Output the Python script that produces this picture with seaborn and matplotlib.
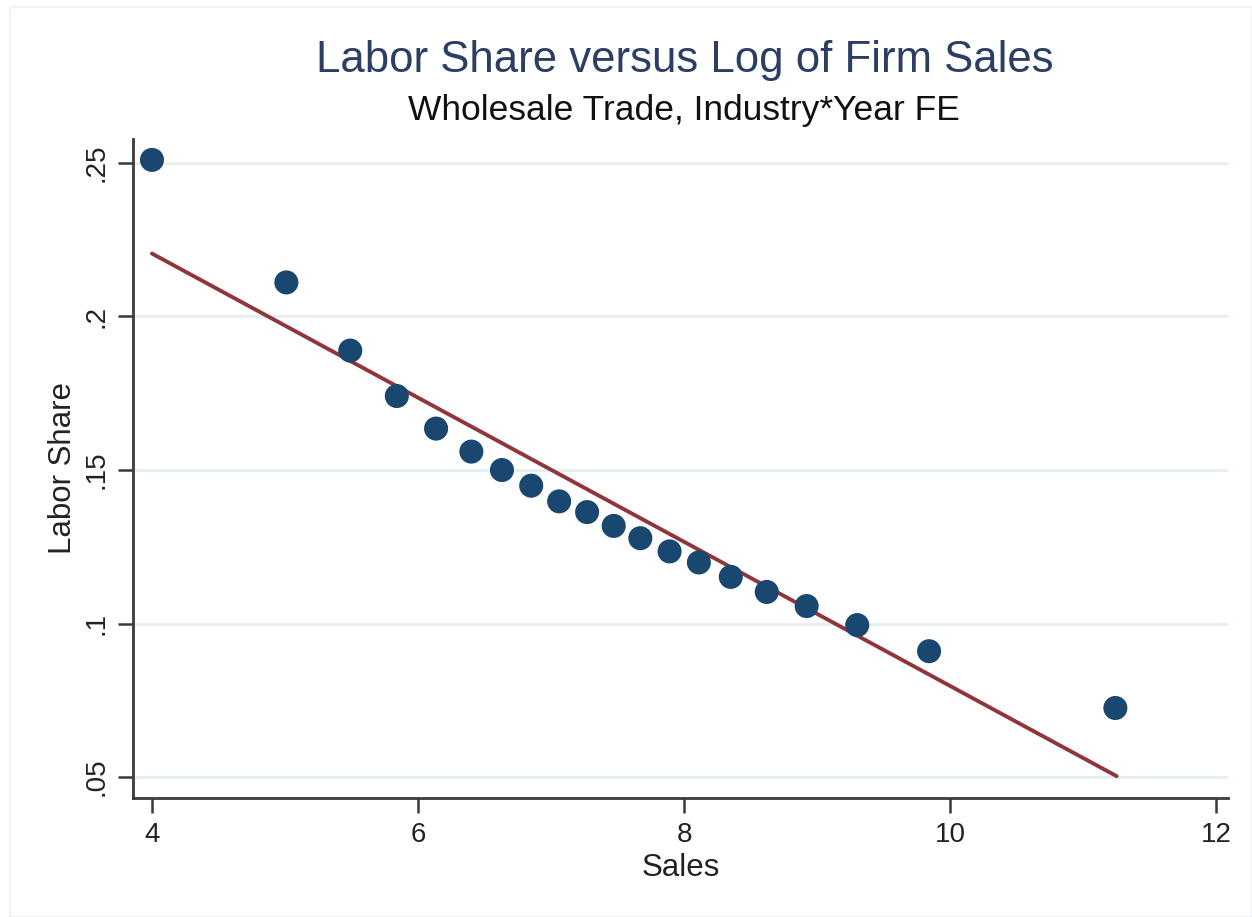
import matplotlib
matplotlib.use("Agg")
import matplotlib.pyplot as plt
import seaborn as sns
import pandas as pd
from matplotlib.patches import Rectangle

# Binned means of labor share by log firm sales
sales = [4.00, 5.01, 5.49, 5.84, 6.135, 6.40, 6.63, 6.85, 7.06, 7.27,
         7.47, 7.67, 7.89, 8.11, 8.35, 8.62, 8.92, 9.30, 9.84, 11.24]
labor_share = [0.2510, 0.2111, 0.1889, 0.1741, 0.1635, 0.1560, 0.1500, 0.1449,
               0.1398, 0.1363, 0.1318, 0.1278, 0.1235, 0.1199, 0.1152, 0.1103,
               0.1057, 0.0995, 0.0910, 0.0725]

# Linear fit endpoints
fit_x = [4.00, 11.25]
fit_y = [0.2205, 0.0503]

x_ticks = [4, 6, 8, 10, 12]
y_ticks = [0.05, 0.10, 0.15, 0.20, 0.25]
y_tick_labels = [".05", ".1", ".15", ".2", ".25"]

title = "Labor Share versus Log of Firm Sales"
subtitle = "Wholesale Trade, Industry*Year FE"

navy = "#1a476f"
maroon = "#90353b"
grid_col = "#e6f0f1"
axis_col = "#3a3a3a"

sns.set_theme(style="white")
plt.rcParams["font.family"] = ["Liberation Sans", "DejaVu Sans"]

points = pd.DataFrame({"Sales": sales, "Labor Share": labor_share})
fit = pd.DataFrame({"Sales": fit_x, "Labor Share": fit_y})

fig = plt.figure(figsize=(12.52, 9.17), dpi=100)
fig.patch.set_facecolor("white")
fig.patches.append(Rectangle((0.008, 0.0), 0.992, 0.992, transform=fig.transFigure,
                             fill=False, edgecolor="#eef4f5", linewidth=1.5))

ax = fig.add_axes([0.1062, 0.1298, 0.875, 0.7186])
ax.set_facecolor("white")

for yv in y_ticks:
    ax.axhline(yv, color=grid_col, linewidth=2.2, zorder=0)

sns.scatterplot(data=points, x="Sales", y="Labor Share", ax=ax, color=navy,
                s=300, edgecolor="none", zorder=3)
sns.lineplot(data=fit, x="Sales", y="Labor Share", ax=ax, color=maroon,
             linewidth=2.8, zorder=2)

ax.set_xlim(3.857, 12.09)
ax.set_ylim(0.0432, 0.2578)
ax.set_xticks(x_ticks)
ax.set_xticklabels([str(t) for t in x_ticks], fontsize=20, color="#222222")
ax.set_yticks(y_ticks)
ax.set_yticklabels(y_tick_labels, fontsize=20, color="#222222", rotation=90, va="center")

ax.tick_params(axis="both", which="major", length=11, width=1.8, color=axis_col,
               direction="out", pad=6)
ax.tick_params(axis="x", bottom=True)
ax.tick_params(axis="y", left=True)

for side in ["top", "right"]:
    ax.spines[side].set_visible(False)
for side in ["left", "bottom"]:
    ax.spines[side].set_color(axis_col)
    ax.spines[side].set_linewidth(2.0)

ax.set_xlabel("Sales", fontsize=22.5, color="#222222", labelpad=4)
ax.set_ylabel("Labor Share", fontsize=22.5, color="#222222", labelpad=4)

fig.text(0.547, 0.934, title, ha="center", va="center", fontsize=31.5, color="#2c3e63")
fig.text(0.546, 0.879, subtitle, ha="center", va="center", fontsize=25.5, color="#111111")

fig.savefig("out.png", dpi=100, facecolor="white")
